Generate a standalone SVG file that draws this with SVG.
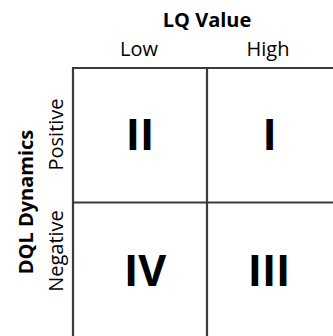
<svg xmlns="http://www.w3.org/2000/svg" width="333" height="336" viewBox="0 0 333 336">
<style>
.hdr{font-family:"Open Sans","Noto Sans",sans-serif;font-weight:bold;font-size:20px;fill:#000}
.lbl{font-family:"Open Sans","Noto Sans",sans-serif;font-size:20px;fill:#000}
.q{font-family:"Open Sans","Noto Sans",sans-serif;font-weight:bold;font-size:43px;fill:#000}
.ln{stroke:#3a3a3a;stroke-width:2.2;fill:none}
</style>
<rect width="333" height="336" fill="#fff"/>
<g id="connectors">
<path class="ln" d="M73,336 V68 H333"/>
<path class="ln" d="M207,68 V336"/>
<path class="ln" d="M73,202.5 H333"/>
</g>
<g id="axis-x"><text class="hdr" x="207" y="27" text-anchor="middle">LQ Value</text></g>
<g id="low"><text class="lbl" x="139" y="55.5" text-anchor="middle">Low</text></g>
<g id="high"><text class="lbl" x="268" y="55.5" text-anchor="middle">High</text></g>
<g id="axis-y"><text class="hdr" transform="translate(33,202) rotate(-90)" text-anchor="middle">DQL Dynamics</text></g>
<g id="positive"><text class="lbl" transform="translate(63,134.5) rotate(-90)" text-anchor="middle">Positive</text></g>
<g id="negative"><text class="lbl" transform="translate(63,251) rotate(-90)" text-anchor="middle">Negative</text></g>
<g id="q2"><text class="q" x="140" y="150" text-anchor="middle">II</text></g>
<g id="q1"><text class="q" x="269.5" y="150" text-anchor="middle">I</text></g>
<g id="q4"><text class="q" x="145" y="286" text-anchor="middle">IV</text></g>
<g id="q3"><text class="q" x="269" y="286" text-anchor="middle">III</text></g>
</svg>
